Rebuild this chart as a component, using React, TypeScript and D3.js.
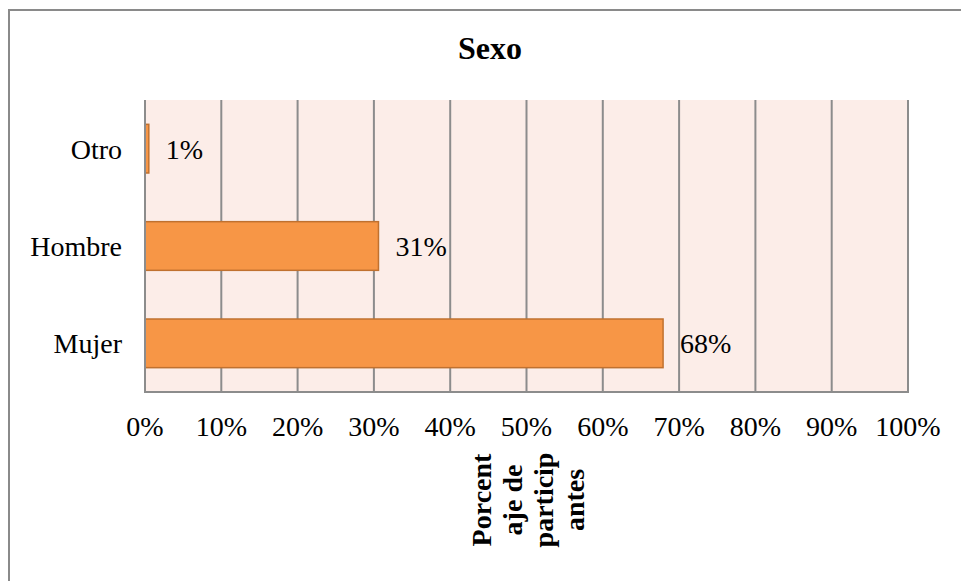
import React from "react";
import * as d3 from "d3";

const categories = ["Otro", "Hombre", "Mujer"];
const values = [0.5, 30.6, 67.9];
const valueLabels = ["1%", "31%", "68%"];
const xTicks = [0, 10, 20, 30, 40, 50, 60, 70, 80, 90, 100];
const title = "Sexo";
const axisTitleLines = ["Porcent", "aje de", "particip", "antes"];

const W = 961;
const H = 581;
const plot = { left: 145, right: 908, top: 100, bottom: 392 };
const FONT = "'Liberation Serif', 'Times New Roman', serif";

export default function App() {
  const x = d3.scaleLinear().domain([0, 100]).range([plot.left, plot.right]);
  const y = d3
    .scaleBand()
    .domain(categories)
    .range([plot.top, plot.bottom])
    .paddingInner(0.5)
    .paddingOuter(0.25);
  const bw = y.bandwidth();
  const axisCenter = (plot.left + plot.right) / 2;

  return (
    <svg
      width={W}
      height={H}
      style={{ position: "absolute", left: 0, top: 0, background: "#fff" }}
      fontFamily={FONT}
    >
      <rect x={9} y={10} width={1200} height={1200} fill="#fff" stroke="#8a8a8a" strokeWidth={2} />
      <text x={490} y={59} textAnchor="middle" fontSize={32} fontWeight="bold" fill="#000">
        {title}
      </text>
      <rect
        x={plot.left}
        y={plot.top}
        width={plot.right - plot.left}
        height={plot.bottom - plot.top}
        fill="#fcede8"
      />
      {xTicks.map((t) => (
        <line
          key={"g" + t}
          x1={x(t)}
          x2={x(t)}
          y1={plot.top}
          y2={plot.bottom}
          stroke="#8c8c8c"
          strokeWidth={2}
        />
      ))}
      {categories.map((c, i) => (
        <rect
          key={"b" + c}
          x={x(0)}
          y={y(c)}
          width={x(values[i]) - x(0)}
          height={bw}
          fill="#f79646"
          stroke="#c0712f"
          strokeWidth={1.5}
        />
      ))}
      <line x1={plot.left} x2={plot.left} y1={plot.top} y2={plot.bottom} stroke="#8c8c8c" strokeWidth={2} />
      <line x1={plot.left - 1} x2={plot.right + 1} y1={plot.bottom} y2={plot.bottom} stroke="#8c8c8c" strokeWidth={2} />
      {categories.map((c, i) => (
        <text
          key={"c" + c}
          x={122}
          y={(y(c) as number) + bw / 2 + 10}
          textAnchor="end"
          fontSize={28}
          fill="#000"
        >
          {c}
        </text>
      ))}
      {categories.map((c, i) => (
        <text
          key={"v" + c}
          x={x(values[i]) + 17}
          y={(y(c) as number) + bw / 2 + 10}
          textAnchor="start"
          fontSize={28}
          fill="#000"
        >
          {valueLabels[i]}
        </text>
      ))}
      {xTicks.map((t) => (
        <text key={"t" + t} x={x(t)} y={436} textAnchor="middle" fontSize={28} fill="#000">
          {t + "%"}
        </text>
      ))}
      <g transform={`translate(${axisCenter},500) rotate(-90)`}>
        <text textAnchor="middle" fontSize={28} fontWeight="bold" fill="#000">
          {axisTitleLines.map((l, i) => (
            <tspan key={l} x={0} y={-36 + i * 31}>
              {l}
            </tspan>
          ))}
        </text>
      </g>
    </svg>
  );
}
